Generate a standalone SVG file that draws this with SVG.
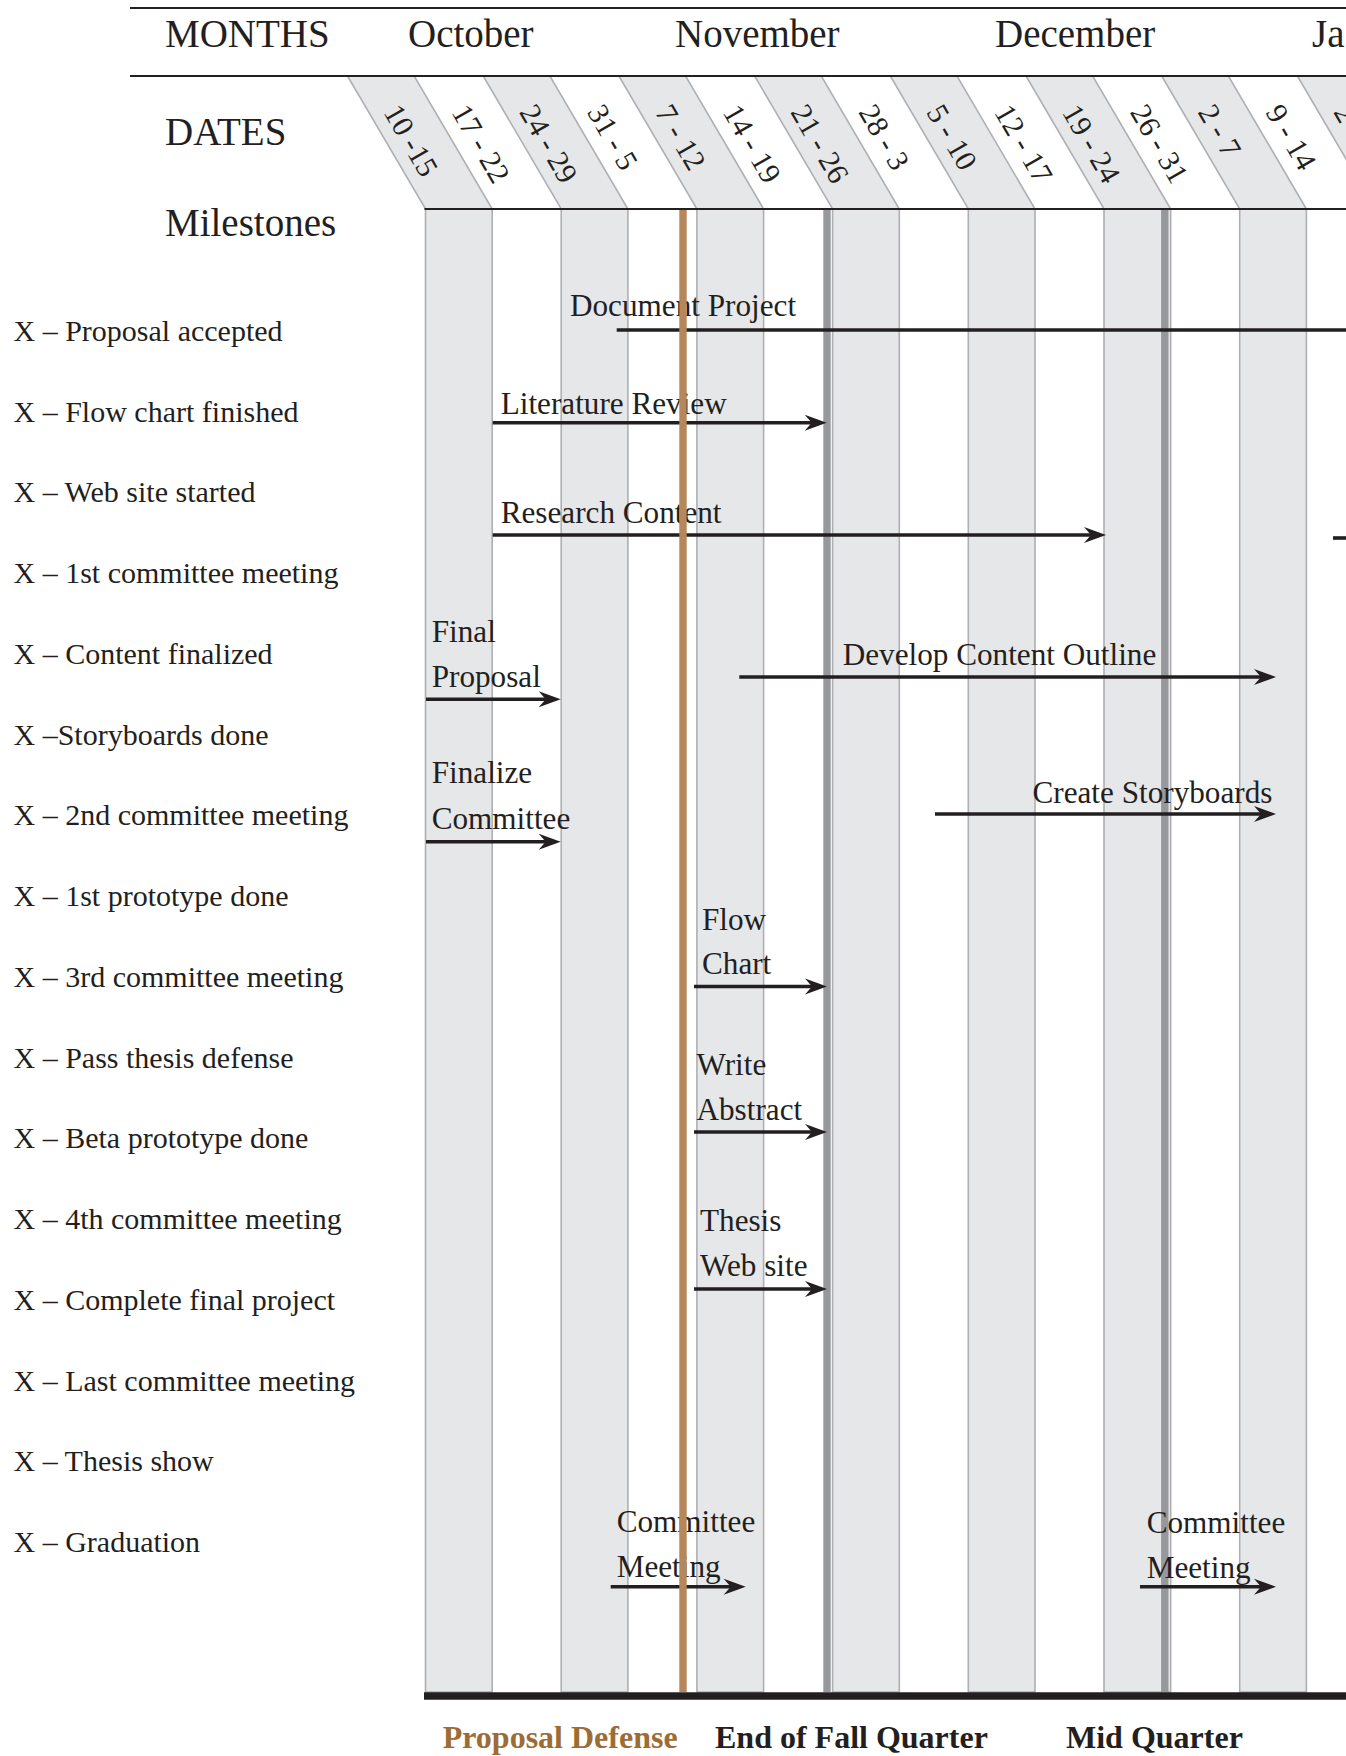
<svg xmlns="http://www.w3.org/2000/svg" width="1346" height="1756" viewBox="0 0 1346 1756">
<defs>
<style>
.t{font-family:"Liberation Serif","Times New Roman",serif;fill:#231f20}
.hd{font-size:39px}
.ms{font-size:30px}
.lb{font-size:31.2px}
.dt{font-size:30px}
.bt{font-size:32px;font-weight:bold}
.band{fill:#e6e7e9;stroke:#aeb0b3;stroke-width:1.6}
.rule{stroke:#231f20;fill:none}
.arr{stroke:#231f20;stroke-width:3.6;fill:none}
.mark{stroke:#97989b;stroke-width:7.4}
</style>
<marker id="ah" markerUnits="userSpaceOnUse" viewBox="0 0 24 18" refX="13" refY="9" markerWidth="24" markerHeight="18" orient="auto">
<path d="M1,1 L23,9 L1,17 L8,9 Z" fill="#231f20"/>
</marker>
</defs>
<rect x="0" y="0" width="1346" height="1756" fill="#ffffff"/>

<g id="columns">
<polygon class="band" points="347.5,76 414.2,76 492.2,209 425.5,209"/>
<polygon class="band" points="483.2,76 549.9,76 627.9,209 561.2,209"/>
<polygon class="band" points="618.9,76 685.6,76 763.6,209 696.9,209"/>
<polygon class="band" points="754.6,76 821.3,76 899.3,209 832.6,209"/>
<polygon class="band" points="890.3,76 957,76 1035,209 968.3,209"/>
<polygon class="band" points="1026,76 1092.7,76 1170.7,209 1104,209"/>
<polygon class="band" points="1161.7,76 1228.4,76 1306.4,209 1239.7,209"/>
<polygon class="band" points="1297.4,76 1364.1,76 1442.1,209 1375.4,209"/>
<rect class="band" x="425.5" y="209" width="66.7" height="1483"/>
<rect class="band" x="561.2" y="209" width="66.7" height="1483"/>
<rect class="band" x="696.9" y="209" width="66.7" height="1483"/>
<rect class="band" x="832.6" y="209" width="66.7" height="1483"/>
<rect class="band" x="968.3" y="209" width="66.7" height="1483"/>
<rect class="band" x="1104" y="209" width="66.7" height="1483"/>
<rect class="band" x="1239.7" y="209" width="66.7" height="1483"/>
</g>

<g id="header">
<line class="rule" x1="130" y1="8" x2="1346" y2="8" stroke-width="2.2"/>
<line class="rule" x1="130" y1="76" x2="1346" y2="76" stroke-width="2.2"/>
<line class="rule" x1="424.5" y1="209" x2="1346" y2="209" stroke-width="2"/>
<text class="t hd" x="165" y="47">MONTHS</text>
<text class="t hd" x="408" y="47">October</text>
<text class="t hd" x="675" y="47">November</text>
<text class="t hd" x="995" y="47">December</text>
<text class="t hd" x="1312" y="47">Ja</text>
<text class="t hd" x="165" y="145">DATES</text>
<text class="t hd" x="165" y="236">Milestones</text>
</g>

<g id="dates">
<text class="t dt" transform="translate(383,112) rotate(60)">10 -15</text>
<text class="t dt" transform="translate(450.9,112) rotate(60)">17 - 22</text>
<text class="t dt" transform="translate(518.7,112) rotate(60)">24 - 29</text>
<text class="t dt" transform="translate(586.6,112) rotate(60)">31 - 5</text>
<text class="t dt" transform="translate(654.4,112) rotate(60)">7 - 12</text>
<text class="t dt" transform="translate(722.3,112) rotate(60)">14 - 19</text>
<text class="t dt" transform="translate(790.1,112) rotate(60)">21 - 26</text>
<text class="t dt" transform="translate(858,112) rotate(60)">28 - 3</text>
<text class="t dt" transform="translate(925.8,112) rotate(60)">5 - 10</text>
<text class="t dt" transform="translate(993.7,112) rotate(60)">12 - 17</text>
<text class="t dt" transform="translate(1061.5,112) rotate(60)">19 - 24</text>
<text class="t dt" transform="translate(1129.4,112) rotate(60)">26 - 31</text>
<text class="t dt" transform="translate(1197.2,112) rotate(60)">2 - 7</text>
<text class="t dt" transform="translate(1265.1,112) rotate(60)">9 - 14</text>
<text class="t dt" transform="translate(1332.9,112) rotate(60)">2</text>
</g>

<g id="milestones">
<text class="t ms" x="13.5" y="340.7">X – Proposal accepted</text>
<text class="t ms" x="13.5" y="421.5">X – Flow chart finished</text>
<text class="t ms" x="13.5" y="502.2">X – Web site started</text>
<text class="t ms" x="13.5" y="583">X – 1st committee meeting</text>
<text class="t ms" x="13.5" y="663.7">X – Content finalized</text>
<text class="t ms" x="13.5" y="744.5">X –Storyboards done</text>
<text class="t ms" x="13.5" y="825.2">X – 2nd committee meeting</text>
<text class="t ms" x="13.5" y="906">X – 1st prototype done</text>
<text class="t ms" x="13.5" y="986.7">X – 3rd committee meeting</text>
<text class="t ms" x="13.5" y="1067.5">X – Pass thesis defense</text>
<text class="t ms" x="13.5" y="1148.2">X – Beta prototype done</text>
<text class="t ms" x="13.5" y="1229">X – 4th committee meeting</text>
<text class="t ms" x="13.5" y="1309.7">X – Complete final project</text>
<text class="t ms" x="13.5" y="1390.5">X – Last committee meeting</text>
<text class="t ms" x="13.5" y="1471.2">X – Thesis show</text>
<text class="t ms" x="13.5" y="1552">X – Graduation</text>
</g>

<g id="quarter-marks">
<line class="mark" x1="827" y1="210" x2="827" y2="1692"/>
<line class="mark" x1="1164.8" y1="210" x2="1164.8" y2="1692"/>
</g>

<g id="connectors">
<line class="arr" x1="616.7" y1="330" x2="1346" y2="330"/>
<line class="arr" x1="492.7" y1="422.7" x2="816.7" y2="422.7" marker-end="url(#ah)"/>
<line class="arr" x1="492.7" y1="535" x2="1096" y2="535" marker-end="url(#ah)"/>
<line class="arr" x1="1333" y1="538" x2="1346" y2="538"/>
<line class="arr" x1="426" y1="699.3" x2="550.7" y2="699.3" marker-end="url(#ah)"/>
<line class="arr" x1="739.3" y1="677" x2="1266" y2="677" marker-end="url(#ah)"/>
<line class="arr" x1="426" y1="841.7" x2="550.7" y2="841.7" marker-end="url(#ah)"/>
<line class="arr" x1="935" y1="814" x2="1266" y2="814" marker-end="url(#ah)"/>
<line class="arr" x1="694" y1="986.5" x2="817" y2="986.5" marker-end="url(#ah)"/>
<line class="arr" x1="694" y1="1132" x2="817" y2="1132" marker-end="url(#ah)"/>
<line class="arr" x1="694" y1="1289" x2="817" y2="1289" marker-end="url(#ah)"/>
<line class="arr" x1="610.7" y1="1586.7" x2="735.7" y2="1586.7" marker-end="url(#ah)"/>
<line class="arr" x1="1140" y1="1586.7" x2="1266" y2="1586.7" marker-end="url(#ah)"/>
</g>

<g id="task-document-project"><text class="t lb" x="570" y="316">Document Project</text></g>
<g id="task-literature-review"><text class="t lb" x="500.7" y="414">Literature Review</text></g>
<g id="task-research-content"><text class="t lb" x="500.7" y="523.3">Research Content</text></g>
<g id="task-final-proposal"><text class="t lb" x="431.7" y="641.7">Final</text><text class="t lb" x="431.7" y="687.3">Proposal</text></g>
<g id="task-develop-outline"><text class="t lb" x="842.7" y="665">Develop Content Outline</text></g>
<g id="task-finalize-committee"><text class="t lb" x="431.7" y="783.3">Finalize</text><text class="t lb" x="431.7" y="829.3">Committee</text></g>
<g id="task-create-storyboards"><text class="t lb" x="1032.5" y="803">Create Storyboards</text></g>
<g id="task-flow-chart"><text class="t lb" x="702" y="929.5">Flow</text><text class="t lb" x="702" y="974.2">Chart</text></g>
<g id="task-write-abstract"><text class="t lb" x="696.5" y="1075">Write</text><text class="t lb" x="696.5" y="1120">Abstract</text></g>
<g id="task-thesis-website"><text class="t lb" x="700" y="1230.6">Thesis</text><text class="t lb" x="700" y="1275.5">Web site</text></g>
<g id="task-committee-meeting-1"><text class="t lb" x="616.7" y="1531.7">Committee</text><text class="t lb" x="616.7" y="1576.7">Meeting</text></g>
<g id="task-committee-meeting-2"><text class="t lb" x="1146.7" y="1532.7">Committee</text><text class="t lb" x="1146.7" y="1578">Meeting</text></g>

<g id="proposal-defense-line">
<line x1="683" y1="210" x2="683" y2="1692" stroke="#b5875a" stroke-width="7.4"/>
</g>

<g id="baseline">
<line class="rule" x1="424" y1="1696" x2="1346" y2="1696" stroke-width="7.5"/>
<text class="t bt" x="442.7" y="1748" style="fill:#9d6c35">Proposal Defense</text>
<text class="t bt" x="715" y="1748">End of Fall Quarter</text>
<text class="t bt" x="1066" y="1748">Mid Quarter</text>
</g>
</svg>
